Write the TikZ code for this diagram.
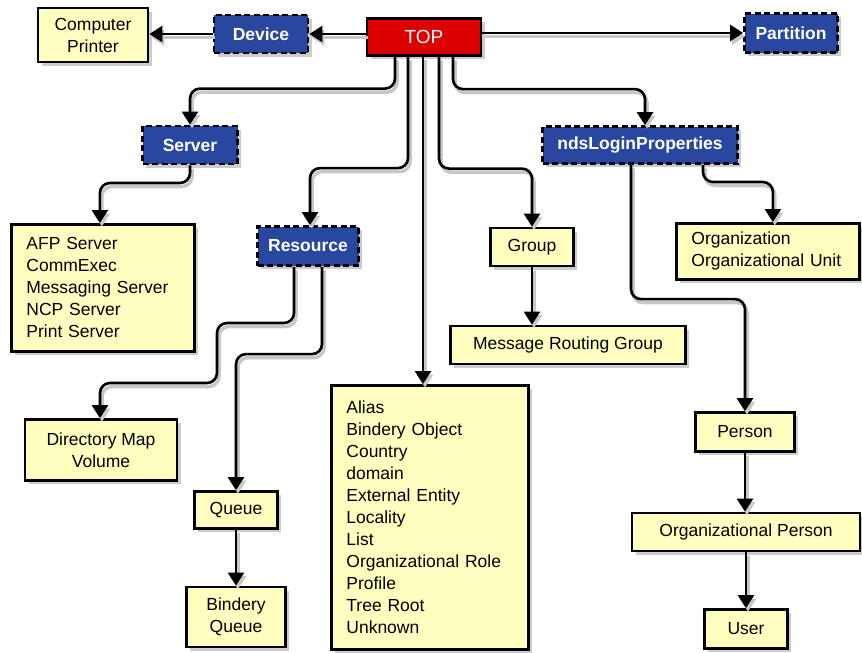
\documentclass[tikz,border=0pt]{standalone}
\usepackage{fontspec}
\setmainfont{Liberation Sans}
\usetikzlibrary{arrows.meta,shadows,calc}
\definecolor{yel}{RGB}{255,255,192}
\definecolor{nblue}{RGB}{40,72,160}
\definecolor{nred}{RGB}{220,0,0}
\begin{document}
\begin{tikzpicture}[x=1pt,y=-1pt,
  box/.style={draw=black, line width=2.8pt, inner sep=0pt, align=center,
    font=\fontsize{17.5}{22}\selectfont,
    drop shadow={shadow xshift=3.5pt,shadow yshift=-3.5pt,opacity=0.4}},
  ybox/.style={box, fill=yel},
  bbox/.style={box, fill=nblue, dash pattern=on 6pt off 3.5pt, text=white,
    font=\fontsize{17.5}{22}\selectfont\bfseries},
  rbox/.style={box, fill=nred, text=white, font=\fontsize{19}{22}\selectfont},
  lbox/.style={ybox, anchor=north west, align=left, inner xsep=15pt},
  conn/.style={line width=2.6pt, rounded corners=10pt,
    -{Triangle[length=13pt,width=16pt]},
    preaction={draw=black!22, line width=3.5pt,
      transform canvas={shift={(2pt,-3.5pt)}}}}
]
\useasboundingbox (0,0) rectangle (862,653);

% nodes
\node[ybox, minimum width=110, minimum height=54] (cp) at (93,35) {Computer\\Printer};
\node[bbox, minimum width=94, minimum height=38] (dev) at (261,34) {Device};
\node[rbox, minimum width=114, minimum height=37] (top) at (424,37) {TOP};
\node[bbox, minimum width=93, minimum height=39] (part) at (791,33) {Partition};
\node[bbox, minimum width=95, minimum height=38] (srv) at (190,145) {Server};
\node[bbox, minimum width=195, minimum height=37] (nds) at (640,145) {ndsLoginProperties};
\node[lbox, text width=153, minimum height=127] (srvlist) at (10,223)
  {AFP Server\\CommExec\\Messaging Server\\NCP Server\\Print Server};
\node[bbox, minimum width=101, minimum height=39] (res) at (308,246) {Resource};
\node[ybox, minimum width=83, minimum height=38] (grp) at (532,247) {Group};
\node[lbox, text width=153, minimum height=56] (org) at (675,222)
  {Organization\\Organizational Unit};
\node[ybox, minimum width=235, minimum height=38] (mrg) at (568,345) {Message Routing Group};
\node[ybox, minimum width=152, minimum height=61] (dmv) at (101,450) {Directory Map\\Volume};
\node[ybox, minimum width=83, minimum height=37] (que) at (236,510) {Queue};
\node[ybox, minimum width=99, minimum height=60] (bq) at (236,617) {Bindery\\Queue};
\node[lbox, text width=167, minimum height=264] (big) at (330,384)
  {Alias\\Bindery Object\\Country\\domain\\External Entity\\Locality\\List\\Organizational Role\\Profile\\Tree Root\\Unknown};
\node[ybox, minimum width=99, minimum height=39] (per) at (745,432) {Person};
\node[ybox, minimum width=228, minimum height=38] (op) at (746,532) {Organizational Person};
\node[ybox, minimum width=83, minimum height=39] (usr) at (746,629) {User};

\coordinate (r1) at (217,323);
\coordinate (r2) at (217,383);
\coordinate (tb) at ($(top.south)+(-1,0)$);

% connectors
\draw[conn] (top.west |- dev.east) -- (dev.east);
\draw[conn] (dev.west) -- (dev.west -| cp.east);
\draw[conn] (top.east |- part.west) -- (part.west);
\draw[conn] ($(top.south)+(-29,0)$) |- ($(srv.north)+(0,-36)$) -- (srv.north);
\draw[conn] ($(top.south)+(-16,0)$) |- ($(res.north)+(2,-57)$) -- ($(res.north)+(2,0)$);
\draw[conn] (tb) -- (tb |- big.north);
\draw[conn] ($(top.south)+(15,0)$) |- ($(grp.north)+(0,-58)$) -- (grp.north);
\draw[conn] ($(top.south)+(29,0)$) |- ($(nds.north)+(5,-36)$) -- ($(nds.north)+(5,0)$);
\draw[conn] (srv.south) |- ($(srvlist.north)+(-3,-40)$) -- ($(srvlist.north)+(-3,0)$);
\draw[conn] ($(res.south)+(-14,0)$) |- (r1) -- (r2) -| ($(dmv.north)+(-1,0)$);
\draw[conn] ($(res.south)+(14,0)$) |- ($(que.north)+(0,-136)$) -- (que.north);
\draw[conn] (que.south) -- (bq.north);
\draw[conn] (grp.south) -- (grp.south |- mrg.north);
\draw[conn] ($(nds.south)+(-9,0)$) |- ($(per.north)+(0,-112)$) -- (per.north);
\draw[conn] ($(nds.south)+(63,0)$) |- ($(org.north)+(5,-40)$) -- ($(org.north)+(5,0)$);
\draw[conn] (per.south) -- (per.south |- op.north);
\draw[conn] (op.south) -- (usr.north);
\end{tikzpicture}
\end{document}
